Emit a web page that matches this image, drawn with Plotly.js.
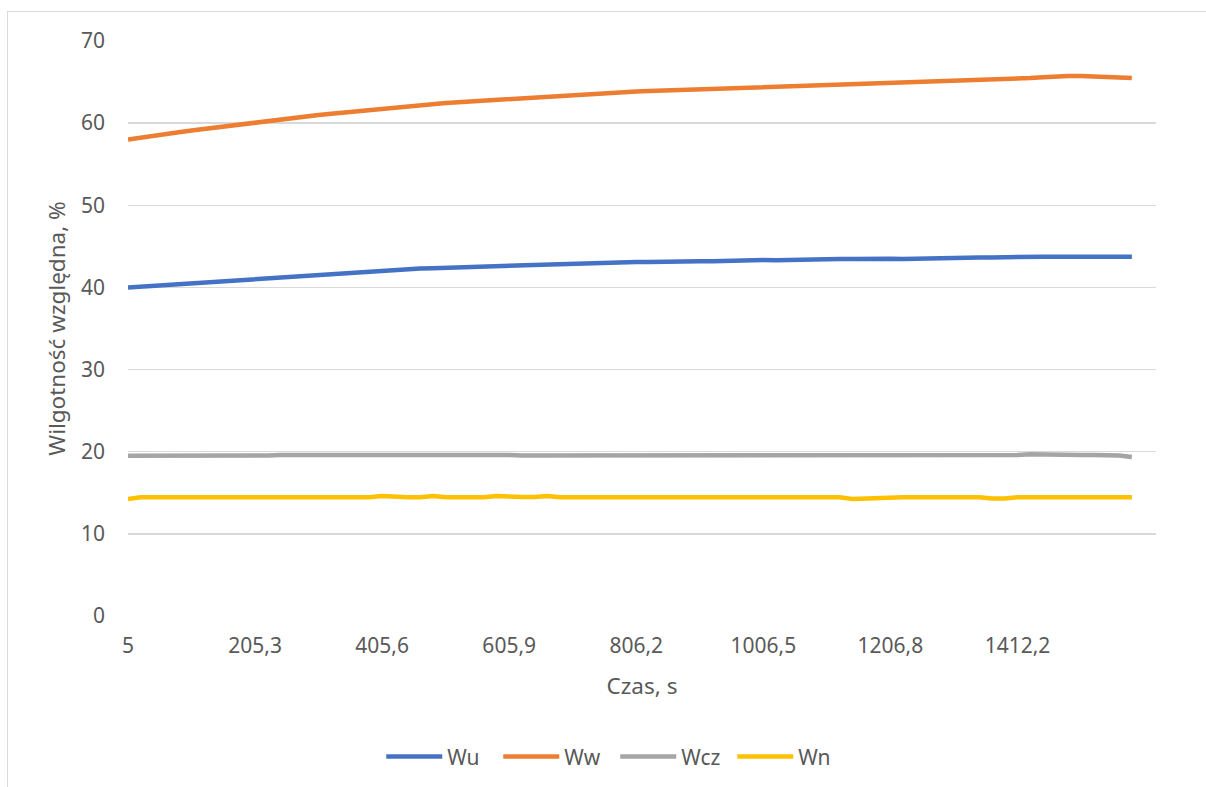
<!DOCTYPE html>
<html>
<head>
<meta charset="utf-8">
<script src="https://cdn.plot.ly/plotly-3.0.1.min.js"></script>
<style>
  html, body { margin: 0; padding: 0; width: 1206px; height: 787px; overflow: hidden; background: #fff; }
  #frame { position: absolute; left: 7px; top: 11px; width: 1300px; height: 900px; border: 1px solid #d9d9d9; pointer-events: none; }
  #chart { position: absolute; left: 0; top: 0; width: 1206px; height: 787px; }
</style>
</head>
<body>
<div id="chart"></div>
<div id="frame"></div>
<script>
// Czas, s (time of each plotted sample)
var times = [
  5.0, 25.0, 45.1, 65.1, 85.1, 105.2, 125.2, 145.2, 165.2, 185.3,
  205.3, 225.3, 245.4, 265.4, 285.4, 305.5, 325.5, 345.5, 365.5, 385.6,
  405.6, 425.6, 445.7, 465.7, 485.7, 505.8, 525.8, 545.8, 565.8, 585.9,
  605.9, 625.9, 646.0, 666.0, 686.0, 706.1, 726.1, 746.1, 766.1, 786.2,
  806.2, 826.2, 846.3, 866.3, 886.3, 906.4, 926.4, 946.4, 966.4, 986.5,
  1006.5, 1026.5, 1046.6, 1066.6, 1086.6, 1106.7, 1126.7, 1146.7, 1166.7, 1186.8,
  1206.8, 1227.3, 1247.9, 1268.4, 1289.0, 1309.5, 1330.0, 1350.6, 1371.1, 1391.7,
  1412.2, 1432.5, 1452.8, 1473.1, 1493.4, 1513.7, 1534.0, 1554.3, 1574.6, 1594.9
];

var Wu = [
  40.0, 40.1, 40.2, 40.35, 40.5, 40.6, 40.7, 40.8, 40.9, 41.0,
  41.1, 41.2, 41.3, 41.4, 41.5, 41.6, 41.7, 41.8, 41.9, 42.0,
  42.1, 42.15, 42.2, 42.3, 42.35, 42.4, 42.45, 42.5, 42.6, 42.65,
  42.7, 42.7, 42.8, 42.85, 42.9, 42.9, 42.95, 43.0, 43.0, 43.05,
  43.1, 43.1, 43.15, 43.15, 43.2, 43.2, 43.2, 43.25, 43.3, 43.3,
  43.35, 43.3, 43.35, 43.4, 43.4, 43.4, 43.45, 43.45, 43.5, 43.5,
  43.5, 43.45, 43.5, 43.5, 43.55, 43.55, 43.6, 43.65, 43.65, 43.7,
  43.75, 43.75, 43.75, 43.75, 43.75, 43.75, 43.75, 43.75, 43.75, 43.75
];

var Ww = [
  58.0, 58.25, 58.5, 58.7, 58.9, 59.1, 59.3, 59.5, 59.65, 59.85,
  60.0, 60.2, 60.4, 60.6, 60.8, 61.0, 61.15, 61.3, 61.5, 61.65,
  61.8, 61.95, 62.1, 62.2, 62.35, 62.45, 62.55, 62.65, 62.75, 62.8,
  62.9, 62.95, 63.05, 63.15, 63.25, 63.35, 63.45, 63.55, 63.65, 63.75,
  63.85, 63.9, 63.95, 64.0, 64.1, 64.15, 64.2, 64.25, 64.3, 64.35,
  64.4, 64.45, 64.5, 64.5, 64.55, 64.6, 64.65, 64.7, 64.8, 64.85,
  64.9, 64.95, 65.0, 65.05, 65.1, 65.15, 65.2, 65.25, 65.3, 65.35,
  65.4, 65.5, 65.6, 65.7, 65.75, 65.75, 65.7, 65.55, 65.5, 65.5
];

var Wcz = [
  19.5, 19.5, 19.5, 19.45, 19.45, 19.45, 19.5, 19.5, 19.5, 19.5,
  19.5, 19.55, 19.6, 19.6, 19.6, 19.6, 19.65, 19.6, 19.6, 19.6,
  19.7, 19.7, 19.6, 19.6, 19.6, 19.6, 19.6, 19.6, 19.6, 19.6,
  19.6, 19.55, 19.55, 19.6, 19.6, 19.6, 19.6, 19.6, 19.6, 19.6,
  19.6, 19.55, 19.55, 19.55, 19.55, 19.55, 19.55, 19.55, 19.55, 19.55,
  19.55, 19.6, 19.6, 19.6, 19.6, 19.6, 19.5, 19.5, 19.6, 19.6,
  19.6, 19.55, 19.55, 19.55, 19.55, 19.5, 19.6, 19.6, 19.6, 19.6,
  19.6, 19.7, 19.65, 19.6, 19.6, 19.6, 19.6, 19.6, 19.55, 19.35
];

var Wn = [
  14.25, 14.45, 14.45, 14.45, 14.45, 14.45, 14.45, 14.45, 14.45, 14.45,
  14.45, 14.45, 14.45, 14.45, 14.45, 14.45, 14.55, 14.45, 14.45, 14.45,
  14.6, 14.5, 14.45, 14.45, 14.6, 14.45, 14.45, 14.45, 14.45, 14.6,
  14.5, 14.5, 14.5, 14.6, 14.45, 14.45, 14.45, 14.45, 14.55, 14.45,
  14.45, 14.45, 14.45, 14.45, 14.45, 14.45, 14.55, 14.45, 14.45, 14.45,
  14.55, 14.45, 14.45, 14.45, 14.45, 14.45, 14.45, 14.25, 14.3, 14.45,
  14.45, 14.45, 14.45, 14.45, 14.45, 14.45, 14.45, 14.45, 14.3, 14.3,
  14.45, 14.45, 14.45, 14.45, 14.45, 14.55, 14.45, 14.45, 14.45, 14.45
];

var xTickTimes = [5, 205.3, 405.6, 605.9, 806.2, 1006.5, 1206.8, 1412.2];
var yTicks = [0, 10, 20, 30, 40, 50, 60, 70];

var seriesNames = ['Wu', 'Ww', 'Wcz', 'Wn'];
var seriesData = [Wu, Ww, Wcz, Wn];
var seriesColors = ['#4472C4', '#ED7D31', '#A5A5A5', '#FFC000'];

function fmt(t) { return String(t).replace('.', ','); }
var cats = times.map(fmt);
var tickCats = xTickTimes.map(fmt);

var traces = seriesNames.map(function (n, k) {
  return {
    type: 'scatter', mode: 'lines', name: n,
    x: cats, y: seriesData[k],
    line: { color: seriesColors[k], width: 4.5 },
    hoverinfo: 'skip'
  };
});

var FONT = '"Noto Sans", "Open Sans", sans-serif';
var layout = {
  width: 1206, height: 787,
  margin: { l: 128, r: 50, t: 41, b: 171, autoexpand: false },
  paper_bgcolor: 'rgba(0,0,0,0)', plot_bgcolor: 'rgba(0,0,0,0)',
  font: { family: FONT, size: 21, color: '#595959' },
  showlegend: true,
  legend: {
    orientation: 'h', x: 0.474, xanchor: 'center', y: -0.245, yanchor: 'middle',
    font: { family: FONT, size: 21, color: '#595959' },
    traceorder: 'normal',
    itemwidth: 56,
    entrywidth: 46, entrywidthmode: 'pixels'
  },
  xaxis: {
    type: 'category',
    range: [0, 80.9],
    tickmode: 'array', tickvals: tickCats, ticktext: tickCats,
    showgrid: false, zeroline: false, showline: false,
    ticks: '', ticklabelstandoff: 15,
    tickfont: { family: FONT, size: 21, color: '#595959' },
    title: { text: 'Czas, s', standoff: 20, font: { family: FONT, size: 22.5, color: '#595959' } }
  },
  yaxis: {
    range: [0, 70],
    tickmode: 'array', tickvals: yTicks,
    showgrid: true, gridcolor: '#d9d9d9', gridwidth: 1.3,
    zeroline: false, showline: false,
    ticks: '', ticklabelstandoff: 22,
    tickfont: { family: FONT, size: 21, color: '#595959' },
    title: { text: 'Wilgotność względna, %', standoff: 9, font: { family: FONT, size: 22.5, color: '#595959' } }
  }
};

Plotly.newPlot('chart', traces, layout, { staticPlot: true, displayModeBar: false });
</script>
</body>
</html>
